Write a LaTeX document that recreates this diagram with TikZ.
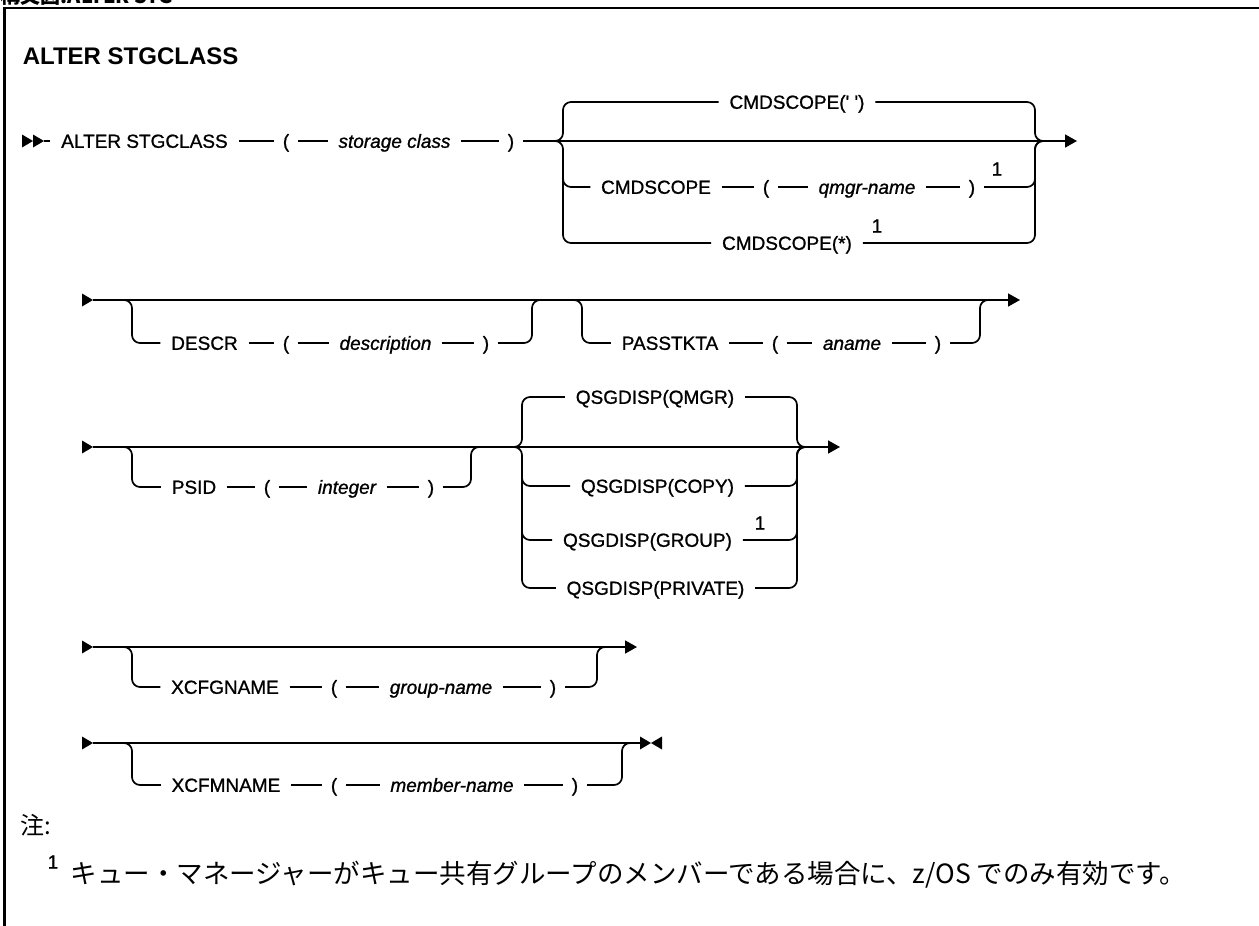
\documentclass[tikz,border=0pt]{standalone}
\usepackage{fontspec}
\setmainfont{Liberation Sans}
\newfontfamily\dg[FakeBold=1]{Liberation Sans}
\newfontfamily\jp{Noto Sans CJK JP}
\usetikzlibrary{arrows.meta}
\newcommand\kwf{\dg\fontsize{19}{19}\selectfont}
\newcommand\varf{\dg\fontsize{19}{19}\selectfont\itshape}
\begin{document}
\begin{tikzpicture}[x=1pt,y=-1pt,line width=1.7pt,
  kw/.style={font=\kwf, inner xsep=10pt, inner ysep=0pt, text height=13.6pt, text depth=0pt},
  var/.style={kw, font=\varf},
  par/.style={kw, inner xsep=8pt},
  supnum/.style={font=\kwf, inner sep=0pt},
  rc/.style={rounded corners=8pt},
  arr/.style={-{Triangle[length=12pt,width=13pt]}}]
\useasboundingbox (0,0) rectangle (1259,926);
% frame and cut caption
\node[anchor=base west, font=\jp\bfseries\fontsize{20}{20}\selectfont, inner sep=0pt] (cut) at (0,4) {構文図:ALTER STG};
\draw[line width=2.6pt] (4.5,926) -- (4.5,8) -- (1259,8);
\node[anchor=base west, font=\fontsize{24}{24}\selectfont\bfseries, inner sep=0pt] (title) at (22,64) {ALTER STGCLASS};

% ---------- row 1
\fill (22,134.5) -- (33,141) -- (22,147.5) -- cycle;
\fill (33,134.5) -- (44,141) -- (33,147.5) -- cycle;
\coordinate (s1) at (44,141);
\coordinate (e1) at (1077,141);
\node[kw] (alter) at (144.5,141) {ALTER STGCLASS};
\node[par] (lp1) at (286,141) {(};
\node[var] (stor) at (394.5,141) {storage class};
\node[par] (rp1) at (511,141) {)};
\draw (s1) -- (alter);
\draw (alter) -- (lp1);
\draw (lp1) -- (stor);
\draw (stor) -- (rp1);
\draw[arr] (rp1) -- (e1);

\node[kw] (c0) at (797,102) {CMDSCOPE(\textquotesingle\ \textquotesingle)};
\node[kw] (c1) at (656,187) {CMDSCOPE};
\node[par] (lp1b) at (766,187) {(};
\node[var] (qmn) at (867,187) {qmgr-name};
\node[par] (rp1b) at (972,187) {)};
\node[supnum] (f1a) at (997,169) {1};
\node[kw] (c2) at (787,243) {CMDSCOPE(*)};
\node[supnum] (f1b) at (877,226) {1};
\draw (c1) -- (lp1b);
\draw (lp1b) -- (qmn);
\draw (qmn) -- (rp1b);
\coordinate (j1L) at (549,141);
\coordinate (b1Lt) at (563,102);
\coordinate (b1Lb) at (563,243);
\coordinate (b1Lm) at (563,165);
\coordinate (j1R) at (1035,141);
\coordinate (j1R2) at (1049,141);
\draw[rc] (j1L) -| (b1Lt) -- (c0);
\draw[rc] (j1L) -| (b1Lb) -- (c2);
\draw[rc] (b1Lm) |- (c1);
\draw[rc] (c0) -| (j1R) -- (j1R2);
\draw[rc] (rp1b) -| (j1R) -- (j1R2);
\draw[rc] (c2) -| (j1R) -- (j1R2);

% ---------- row 2
\fill (82,293.5) -- (93,300) -- (82,306.5) -- cycle;
\coordinate (s2) at (93,300);
\coordinate (e2) at (1020,300);
\draw[arr] (s2) -- (e2);
\node[kw] (descr) at (204.5,343) {DESCR};
\node[par] (lp2) at (286,343) {(};
\node[var] (desc) at (385.5,343) {description};
\node[par] (rp2) at (486,343) {)};
\draw (descr) -- (lp2);
\draw (lp2) -- (desc);
\draw (desc) -- (rp2);
\coordinate (j2a) at (118,300);
\coordinate (b2a) at (132,343);
\coordinate (j2b) at (532,300);
\coordinate (j2b2) at (546,300);
\draw[rc] (j2a) -| (b2a) -- (descr);
\draw[rc] (rp2) -| (j2b) -- (j2b2);

\node[kw] (pass) at (670,343) {PASSTKTA};
\node[par] (lp3) at (775,343) {(};
\node[var] (aname) at (852,343) {aname};
\node[par] (rp3) at (938,343) {)};
\draw (pass) -- (lp3);
\draw (lp3) -- (aname);
\draw (aname) -- (rp3);
\coordinate (j3a) at (568,300);
\coordinate (b3a) at (582,343);
\coordinate (j3b) at (980,300);
\coordinate (j3b2) at (994,300);
\draw[rc] (j3a) -| (b3a) -- (pass);
\draw[rc] (rp3) -| (j3b) -- (j3b2);

% ---------- row 3
\fill (82,440.5) -- (93,447) -- (82,453.5) -- cycle;
\coordinate (s3) at (93,447);
\coordinate (e3) at (840,447);
\draw[arr] (s3) -- (e3);
\node[kw] (psid) at (194,487) {PSID};
\node[par] (lp4) at (267,487) {(};
\node[var] (int) at (347,487) {integer};
\node[par] (rp4) at (431,487) {)};
\draw (psid) -- (lp4);
\draw (lp4) -- (int);
\draw (int) -- (rp4);
\coordinate (j4a) at (118,447);
\coordinate (b4a) at (132,487);
\coordinate (j4b) at (471,447);
\coordinate (j4b2) at (485,447);
\draw[rc] (j4a) -| (b4a) -- (psid);
\draw[rc] (rp4) -| (j4b) -- (j4b2);

\node[kw] (qmgr) at (655,397) {QSGDISP(QMGR)};
\node[kw] (qcopy) at (657.5,486) {QSGDISP(COPY)};
\node[kw] (qgrp) at (647.5,540) {QSGDISP(GROUP)};
\node[supnum] (f1c) at (760,523) {1};
\node[kw] (qpriv) at (655.5,588) {QSGDISP(PRIVATE)};
\coordinate (j5L) at (508,447);
\coordinate (b5Lt) at (522,397);
\coordinate (b5Lb) at (522,588);
\coordinate (b5Lm1) at (522,465);
\coordinate (b5Lm2) at (522,520);
\coordinate (j5R) at (797,447);
\coordinate (j5R2) at (811,447);
\draw[rc] (j5L) -| (b5Lt) -- (qmgr);
\draw[rc] (j5L) -| (b5Lb) -- (qpriv);
\draw[rc] (b5Lm1) |- (qcopy);
\draw[rc] (b5Lm2) |- (qgrp);
\draw[rc] (qmgr) -| (j5R) -- (j5R2);
\draw[rc] (qcopy) -| (j5R) -- (j5R2);
\draw[rc] (qgrp) -| (j5R) -- (j5R2);
\draw[rc] (qpriv) -| (j5R) -- (j5R2);

% ---------- row 4
\fill (82,640.5) -- (93,647) -- (82,653.5) -- cycle;
\coordinate (s6) at (93,647);
\coordinate (e6) at (637,647);
\draw[arr] (s6) -- (e6);
\node[kw] (xg) at (225,687) {XCFGNAME};
\node[par] (lp6) at (334,687) {(};
\node[var] (gn) at (441,687) {group-name};
\node[par] (rp6) at (553,687) {)};
\draw (xg) -- (lp6);
\draw (lp6) -- (gn);
\draw (gn) -- (rp6);
\coordinate (j6a) at (118,647);
\coordinate (b6a) at (132,687);
\coordinate (j6b) at (597,647);
\coordinate (j6b2) at (611,647);
\draw[rc] (j6a) -| (b6a) -- (xg);
\draw[rc] (rp6) -| (j6b) -- (j6b2);

% ---------- row 5
\fill (82,736.5) -- (93,743) -- (82,749.5) -- cycle;
\coordinate (s7) at (93,743);
\coordinate (e7) at (640,743);
\draw (s7) -- (e7);
\fill (640,736.5) -- (651,743) -- (640,749.5) -- cycle;
\fill (662,736.5) -- (651,743) -- (662,749.5) -- cycle;
\node[kw] (xm) at (226,785) {XCFMNAME};
\node[par] (lp7) at (334,785) {(};
\node[var] (mn) at (452,785) {member-name};
\node[par] (rp7) at (575,785) {)};
\draw (xm) -- (lp7);
\draw (lp7) -- (mn);
\draw (mn) -- (rp7);
\coordinate (j7a) at (118,743);
\coordinate (b7a) at (132,785);
\coordinate (j7b) at (622,743);
\coordinate (j7b2) at (636,743);
\draw[rc] (j7a) -| (b7a) -- (xm);
\draw[rc] (rp7) -| (j7b) -- (j7b2);

% ---------- notes
\node[anchor=west, font=\jp\fontsize{24}{24}\selectfont, inner sep=0pt] (note) at (20,825) {注:};
\node[supnum] (fn1) at (53,862) {1};
\node[anchor=west, font=\jp\fontsize{26.5}{26.5}\selectfont, inner sep=0pt] (fn) at (70,875) {キュー・マネージャーがキュー共有グループのメンバーである場合に、z/OS でのみ有効です。};
\end{tikzpicture}
\end{document}
